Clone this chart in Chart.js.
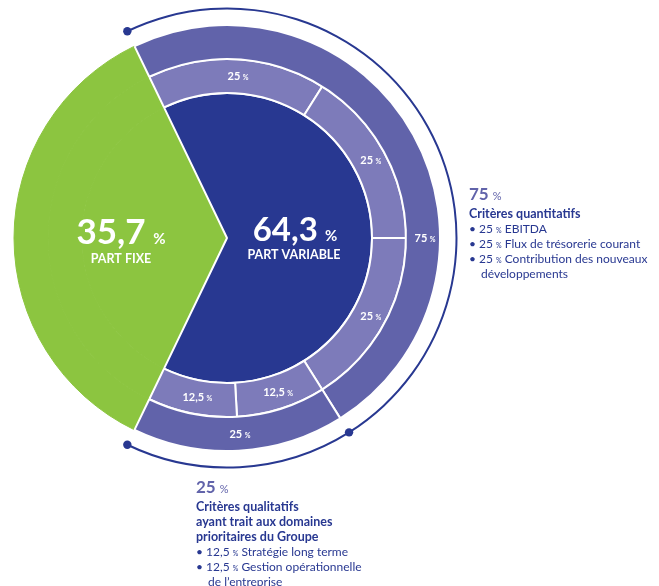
<!DOCTYPE html>
<html>
<head>
<meta charset="utf-8">
<script src="https://cdn.jsdelivr.net/npm/chart.js@4.4.0/dist/chart.umd.min.js"></script>
<style>
  body { margin: 0; background: #fff; }
  #wrap { position: relative; width: 659px; height: 586px; overflow: hidden; }
  #roue { position: absolute; left: 0; top: 0; }
  .note { position: absolute; color: #283891; font-family: Lato, "Open Sans", sans-serif; font-size: 12px; line-height: 15px; white-space: nowrap; }
  .note .big { color: #6163aa; font-weight: bold; font-size: 17px; line-height: 20px; }
  .note .big small { font-size: 11px; font-weight: normal; }
  .note .head { font-weight: bold; font-size: 12.5px; }
  .note .pc { font-size: 7px; line-height: 1; }
  .note .item { padding-left: 12px; text-indent: -12px; white-space: normal; }
</style>
</head>
<body>
<div id="wrap">
  <canvas id="roue" width="659" height="586"></canvas>
  <div class="note" id="noteQuanti" style="left:469px; top:184px; width:190px;"></div>
  <div class="note" id="noteQuali" style="left:196px; top:477px; width:190px;"></div>
</div>

<script>
  // remuneration split
  var partFixe = 35.7;
  var partVariable = 64.3;

  // variable part: two groups of criteria (in % of the variable part)
  var groupes = ["Critères quantitatifs", "Critères qualitatifs ayant trait aux domaines prioritaires du Groupe"];
  var groupeParts = [75, 25];

  // detail of the criteria (in % of the variable part)
  var criteres = ["EBITDA", "Flux de trésorerie courant", "Contribution des nouveaux développements",
                  "Stratégie long terme", "Gestion opérationnelle de l’entreprise"];
  var critereParts = [25, 25, 25, 12.5, 12.5];
  var critereGroupe = [0, 0, 0, 1, 1];

  var green = "#8cc540";
  var navy = "#283891";
  var purple = "#6163aa";
  var lilac = "#7d7bba";
  var none = "rgba(0,0,0,0)";

  function fr(v) {
    return String(v).replace(".", ",");
  }

  var groupeValeurs = groupeParts.map(p => partVariable * p / 100);
  var critereValeurs = critereParts.map(p => partVariable * p / 100);

  // side notes
  function buildNote(id, g, headLines) {
    var html = '<div class="big">' + groupeParts[g] + ' <small>%</small></div>';
    html += '<div class="head">' + headLines.join("<br>") + '</div>';
    for (var i = 0; i < criteres.length; i++) {
      if (critereGroupe[i] != g) continue;
      html += '<div class="item">• ' + fr(critereParts[i]) + ' <span class="pc">%</span> ' + criteres[i] + '</div>';
    }
    document.getElementById(id).innerHTML = html;
  }
  buildNote("noteQuanti", 0, [groupes[0]]);
  buildNote("noteQuali", 1, ["Critères qualitatifs", "ayant trait aux domaines", "prioritaires du Groupe"]);
  document.querySelector("#noteQuanti .item:last-child").style.width = "178px";
  document.querySelectorAll("#noteQuali .item")[1].style.width = "166px";

  function drawPct(ctx, txt, x, y, size, smallSize) {
    ctx.font = "bold " + size + "px Lato, sans-serif";
    var w1 = ctx.measureText(txt).width;
    ctx.font = "bold " + smallSize + "px Lato, sans-serif";
    var gap = size * 0.22;
    var w2 = ctx.measureText("%").width;
    var x0 = x - (w1 + gap + w2) / 2;
    ctx.textAlign = "left";
    ctx.textBaseline = "alphabetic";
    ctx.font = "bold " + size + "px Lato, sans-serif";
    ctx.fillText(txt, x0, y);
    ctx.font = "bold " + smallSize + "px Lato, sans-serif";
    ctx.fillText("%", x0 + w1 + gap, y);
  }

  var labelsPlugin = {
    id: "labels",
    afterDatasetsDraw(chart) {
      var ctx = chart.ctx;
      ctx.save();

      // dots at the ends of the bracket
      var bracket = chart.getDatasetMeta(0).data;
      var r = (bracket[1].innerRadius + bracket[1].outerRadius) / 2;
      var cx = bracket[1].x, cy = bracket[1].y;
      [bracket[1].startAngle, bracket[1].endAngle, bracket[2].endAngle].forEach(a => {
        ctx.beginPath();
        ctx.arc(cx + r * Math.cos(a), cy + r * Math.sin(a), 4.2, 0, Math.PI * 2);
        ctx.fillStyle = navy;
        ctx.fill();
      });

      // ring labels
      ctx.fillStyle = "#fff";
      chart.data.datasets.forEach((ds, di) => {
        if (!ds.pctLabels) return;
        chart.getDatasetMeta(di).data.forEach((el, i) => {
          if (i == 0) return;
          var a = (el.startAngle + el.endAngle) / 2;
          if (di == 2 && i == 1) a = 0; // 75 % label sits on the horizontal
          var rr = (el.innerRadius + el.outerRadius) / 2;
          drawPct(ctx, fr(ds.pctLabels[i - 1]), el.x + rr * Math.cos(a) + 2, el.y + rr * Math.sin(a) + 4, 11, 7);
        });
      });

      // centre labels
      drawPct(ctx, fr(partVariable), cx + 68, cy + 3, 33, 15);
      drawPct(ctx, fr(partFixe), cx - 106, cy + 6, 35, 15);
      ctx.textAlign = "center";
      ctx.font = "bold 12.5px Lato, sans-serif";
      ctx.fillText("PART VARIABLE", cx + 67, cy + 21);
      ctx.fillText("PART FIXE", cx - 106, cy + 25);
      ctx.restore();
    }
  };

  var config = {
    type: "pie",
    data: {
      datasets: [
        {
          data: [partFixe].concat(groupeValeurs),
          backgroundColor: [none, navy, navy],
          borderWidth: 0,
          weight: 2
        },
        {
          data: [partFixe, partVariable],
          backgroundColor: [none, none],
          borderWidth: 0,
          weight: 15.5
        },
        {
          data: [partFixe].concat(groupeValeurs),
          backgroundColor: [green, purple, purple],
          borderColor: [green, "#fff", "#fff"],
          borderWidth: [1, 2, 2],
          weight: 34,
          pctLabels: groupeParts
        },
        {
          data: [partFixe].concat(critereValeurs),
          backgroundColor: [green].concat(critereParts.map(() => lilac)),
          borderColor: [green].concat(critereParts.map(() => "#fff")),
          borderWidth: [1].concat(critereParts.map(() => 2)),
          weight: 34,
          pctLabels: critereParts
        },
        {
          data: [partFixe, partVariable],
          backgroundColor: [green, navy],
          borderColor: [green, "#fff"],
          borderWidth: [1, 2],
          weight: 145
        }
      ]
    },
    options: {
      responsive: false,
      animation: false,
      devicePixelRatio: 1,
      events: [],
      radius: 230.5,
      rotation: 270 - partFixe * 3.6 / 2,
      layout: { padding: { left: 0, top: 0, right: 205, bottom: 110 } },
      plugins: { legend: { display: false }, tooltip: { enabled: false } },
      datasets: { pie: { clip: false } }
    },
    plugins: [labelsPlugin]
  };

  new Chart(document.getElementById("roue"), config);
</script>
</body>
</html>
